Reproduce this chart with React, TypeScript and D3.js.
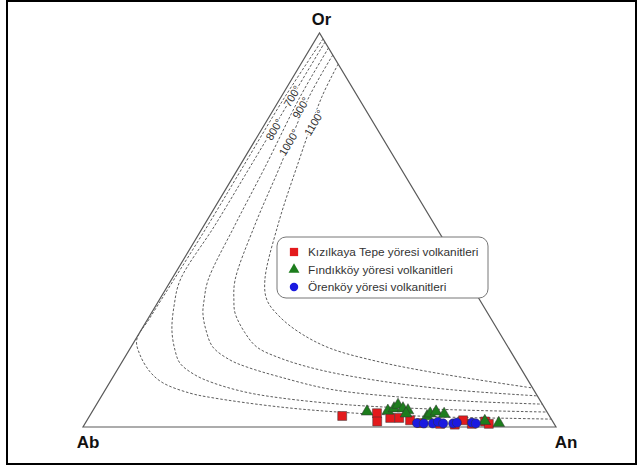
import React from "react";
import * as d3 from "d3";

// compositions are [Ab, An, Or] in %
const isotherms: { t: string; pts: number[][] }[] = [
  { t: "700", pts: [[0, 1.5, 98.5], [15.4, 0.8, 83.8], [33.2, 0.8, 66.0], [48.4, 0.8, 50.8], [62.9, 0.5, 36.6], [72.0, 0.3, 27.7], [77.6, 0.3, 22.1], [78.8, 2.9, 18.3], [78.9, 7.2, 14.0], [77.5, 11.3, 11.2], [73.1, 18.3, 8.6], [68.8, 23.8, 7.4], [56.0, 39.1, 5.1], [41.8, 54.7, 3.6], [21.2, 76.3, 2.5], [8.6, 89.2, 2.2], [0, 98.0, 2.0]] },
  { t: "800", pts: [[0, 2.3, 97.7], [13.9, 2.3, 83.8], [31.1, 2.3, 66.0], [46.5, 2.3, 51.3], [60.8, 1.9, 37.3], [65.3, 3.8, 31.0], [68.9, 6.5, 24.6], [70.8, 9.7, 19.5], [71.4, 12.4, 16.2], [69.7, 17.1, 13.2], [66.9, 21.9, 11.2], [61.4, 29.8, 8.9], [54.7, 38.0, 7.4], [40.8, 53.7, 5.6], [20.2, 75.4, 4.4], [0, 96.2, 3.8]] },
  { t: "900", pts: [[0, 3.8, 96.2], [12.2, 4.0, 83.8], [28.5, 5.5, 66.0], [42.2, 6.5, 51.3], [54.9, 7.8, 37.3], [58.3, 9.5, 32.2], [60.2, 10.9, 28.9], [61.7, 13.7, 24.6], [62.4, 17.3, 20.3], [60.4, 22.6, 17.0], [57.7, 27.1, 15.2], [52.0, 35.3, 12.7], [43.0, 47.4, 9.6], [29.2, 63.2, 7.6], [14.9, 78.6, 6.5], [0, 94.2, 5.8]] },
  { t: "1000", pts: [[0, 5.6, 94.4], [10.3, 5.9, 83.8], [25.4, 8.6, 66.0], [38.0, 10.7, 51.3], [49.2, 13.5, 37.3], [52.0, 15.8, 32.2], [53.4, 17.7, 28.9], [53.8, 22.3, 23.9], [53.1, 26.6, 20.3], [49.6, 32.9, 17.5], [42.7, 42.9, 14.5], [31.4, 57.0, 11.7], [17.7, 72.8, 9.5], [0, 92.1, 7.9]] },
  { t: "1100", pts: [[0, 7.9, 92.1], [7.6, 8.6, 83.8], [21.8, 12.2, 66.0], [33.2, 15.6, 51.3], [42.9, 19.8, 37.3], [45.0, 22.8, 32.2], [44.4, 27.7, 27.9], [42.2, 34.0, 23.9], [37.8, 42.2, 20.0], [29.0, 54.5, 16.5], [19.7, 66.4, 14.0], [10.1, 78.0, 11.9], [0, 90.1, 9.9]] },
];

// where the temperature labels sit, [Ab, An, Or]
const tempLabels: { t: string; at: number[] }[] = [
  { t: "700°", at: [13.7, 2.5, 83.8] },
  { t: "800°", at: [21.7, 2.9, 75.4] },
  { t: "900°", at: [13.3, 5.8, 81.0] },
  { t: "1000°", at: [20.2, 7.7, 72.1] },
  { t: "1100°", at: [12.4, 10.5, 77.2] },
];

const kizilkaya = [
  [43.8, 53.4, 2.8], [36.1, 60.4, 3.5], [37.1, 61.5, 1.4], [33.9, 63.8, 2.3], [32.0, 65.7, 2.3],
  [30.0, 68.3, 1.7], [28.0, 71.0, 1.0], [24.1, 75.1, 0.8], [21.1, 78.3, 0.6], [18.8, 79.5, 1.7],
  [17.4, 81.8, 0.8], [14.3, 84.3, 1.4], [13.8, 85.4, 0.8],
];
const findikkoy = [
  [38.0, 58.1, 3.9], [33.5, 62.4, 4.1], [31.9, 63.4, 4.7], [30.6, 63.8, 5.6], [30.0, 65.3, 4.7],
  [29.2, 66.6, 4.2], [30.0, 66.6, 3.4], [25.9, 71.4, 2.7], [24.9, 71.7, 3.4], [23.4, 72.7, 3.9],
  [22.0, 74.7, 3.3], [14.3, 84.2, 1.5], [11.6, 87.4, 1.0],
];
const orenkoy = [
  [28.9, 70.1, 1.0], [27.5, 71.6, 0.9], [25.6, 73.5, 0.9], [24.3, 74.4, 1.3], [23.4, 75.7, 0.9],
  [21.3, 77.8, 0.9], [20.4, 78.5, 1.1], [17.2, 81.7, 1.1], [16.5, 82.6, 0.9],
];

const seriesNames = [
  "Kızılkaya Tepe yöresi volkanitleri",
  "Fındıkköy yöresi volkanitleri",
  "Örenköy yöresi volkanitleri",
];

const W = 644;
const H = 466;
const font = "'Liberation Sans', Arial, sans-serif";

// base runs Ab -> An, height goes to Or
const x = d3.scaleLinear().domain([0, 100]).range([83, 556]);
const y = d3.scaleLinear().domain([0, 100]).range([427, 33]);

function proj(c: number[]): [number, number] {
  const s = c[0] + c[1] + c[2];
  const an = (c[1] / s) * 100;
  const or = (c[2] / s) * 100;
  return [x(an + or / 2), y(or)];
}

const line = d3
  .line<number[]>()
  .x((d) => proj(d)[0])
  .y((d) => proj(d)[1])
  .curve(d3.curveCatmullRom.alpha(0.5));

const series = [
  { name: seriesNames[0], data: kizilkaya, type: d3.symbolSquare, size: 80, fill: "#e31a1c" },
  { name: seriesNames[1], data: findikkoy, type: d3.symbolTriangle, size: 60, fill: "#1d7d1d" },
  { name: seriesNames[2], data: orenkoy, type: d3.symbolCircle, size: 66, fill: "#1a1ae0" },
];

export default function App() {
  const A = proj([100, 0, 0]);
  const B = proj([0, 100, 0]);
  const C = proj([0, 0, 100]);
  const edgeAngle = (Math.atan2(A[1] - C[1], A[0] - C[0]) * 180) / Math.PI;
  const rot = edgeAngle - 180;

  const lg = { x: 277, y: 237, w: 211, h: 61 };

  return (
    <svg width={W} height={H} style={{ position: "absolute", left: 0, top: 0, background: "#fff" }} fontFamily={font}>
      <rect x={7} y={1} width={629} height={463} fill="none" stroke="#000" strokeWidth={2} />

      {/* isotherms */}
      {isotherms.map((iso) => (
        <path key={iso.t} d={line(iso.pts) || ""} fill="none" stroke="#4a4a4a" strokeWidth={0.9} strokeDasharray="2.6,1.8" />
      ))}

      {/* triangle */}
      <path d={`M${A[0]},${A[1]}L${B[0]},${B[1]}L${C[0]},${C[1]}Z`} fill="none" stroke="#5a5a5a" strokeWidth={1.2} />

      {tempLabels.map((l) => {
        const p = proj(l.at);
        return (
          <text
            key={l.t}
            transform={`translate(${p[0]},${p[1]}) rotate(${rot})`}
            textAnchor="middle"
            dominantBaseline="middle"
            fontSize={11}
            fill="#333"
            stroke="#fff"
            strokeWidth={2.5}
            paintOrder="stroke"
          >
            {l.t}
          </text>
        );
      })}

      {/* data */}
      {series.map((s) =>
        s.data.map((d, i) => {
          const p = proj(d);
          return (
            <path
              key={s.name + i}
              d={d3.symbol().type(s.type).size(s.size)() || ""}
              transform={`translate(${p[0]},${p[1]})`}
              fill={s.fill}
              stroke="#333"
              strokeWidth={0.5}
            />
          );
        })
      )}

      {/* vertex labels */}
      <text x={C[0] + 2} y={25} textAnchor="middle" fontSize={16.5} fontWeight="bold" fill="#111">Or</text>
      <text x={A[0] + 5} y={448} textAnchor="middle" fontSize={17} fontWeight="bold" fill="#111">Ab</text>
      <text x={B[0] + 10} y={448} textAnchor="middle" fontSize={17} fontWeight="bold" fill="#111">An</text>

      {/* legend */}
      <rect x={lg.x} y={lg.y} width={lg.w} height={lg.h} rx={9} fill="#fff" stroke="#777" strokeWidth={1} />
      {series.map((s, i) => {
        const cy = 252 + i * 17.5;
        return (
          <g key={s.name}>
            <path
              d={d3.symbol().type(s.type).size(s.size * 0.85)() || ""}
              transform={`translate(294,${cy})`}
              fill={s.fill}
              stroke="none"
            />
            <text x={308} y={cy + 4} fontSize={11.8} fill="#333">{s.name}</text>
          </g>
        );
      })}
    </svg>
  );
}
